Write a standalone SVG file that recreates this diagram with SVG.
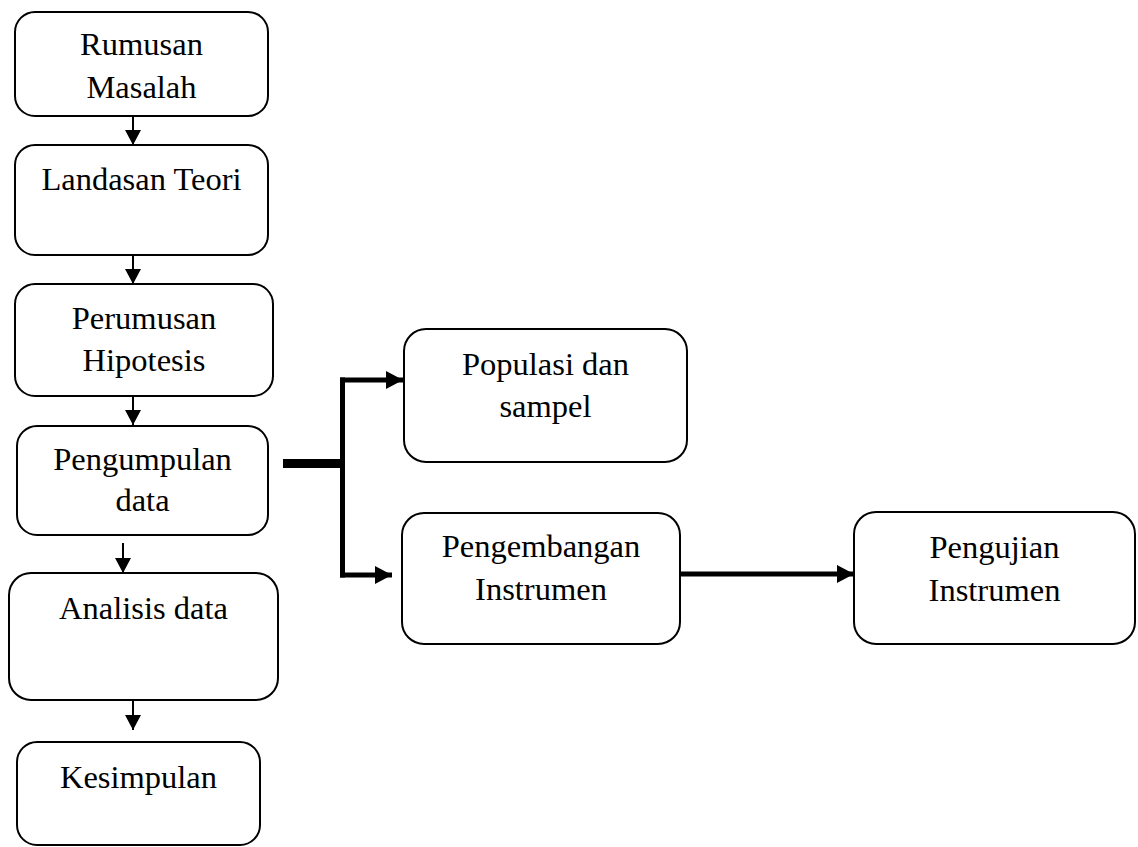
<svg xmlns="http://www.w3.org/2000/svg" width="1138" height="847" viewBox="0 0 1138 847">
<style>
.box{fill:#fff;stroke:#000;stroke-width:2}
.t{font-family:"Liberation Serif","Times New Roman",serif;font-size:32.5px;fill:#000;text-anchor:middle}
.thin{stroke:#000;stroke-width:2;fill:none}
.thick{stroke:#000;stroke-width:5;fill:none}
</style>
<defs>
<marker id="ah" markerUnits="userSpaceOnUse" markerWidth="17" markerHeight="17" refX="15" refY="8" orient="auto"><path d="M0,0 L15,8 L0,16 Z" fill="#000"/></marker>
<marker id="ahb" markerUnits="userSpaceOnUse" markerWidth="19" markerHeight="20" refX="17" refY="9" orient="auto"><path d="M0,0 L17,9 L0,18 Z" fill="#000"/></marker>
</defs>
<g id="connectors">
<line class="thin" x1="133" y1="116" x2="133" y2="145" marker-end="url(#ah)"/>
<line class="thin" x1="133" y1="255" x2="133" y2="284" marker-end="url(#ah)"/>
<line class="thin" x1="133" y1="396" x2="133" y2="425" marker-end="url(#ah)"/>
<line class="thin" x1="123" y1="543" x2="123" y2="573" marker-end="url(#ah)"/>
<line class="thin" x1="133" y1="700" x2="133" y2="730" marker-end="url(#ah)"/>
<line x1="283" y1="463.5" x2="345" y2="463.5" stroke="#000" stroke-width="9"/>
<line class="thick" x1="342.5" y1="377.5" x2="342.5" y2="577.5"/>
<line class="thick" x1="340" y1="380" x2="403" y2="380" marker-end="url(#ahb)"/>
<line class="thick" x1="340" y1="575" x2="392" y2="575" marker-end="url(#ahb)"/>
<line class="thick" x1="680" y1="574" x2="854" y2="574" marker-end="url(#ahb)"/>
</g>
<g id="n1"><rect class="box" x="15" y="12" width="253" height="104" rx="20"/><text class="t" x="141.5" y="55">Rumusan</text><text class="t" x="141.5" y="98">Masalah</text></g>
<g id="n2"><rect class="box" x="15" y="145" width="253" height="110" rx="20"/><text class="t" x="141.5" y="190">Landasan Teori</text></g>
<g id="n3"><rect class="box" x="15" y="284" width="258" height="112" rx="20"/><text class="t" x="144" y="329">Perumusan</text><text class="t" x="144" y="371">Hipotesis</text></g>
<g id="n4"><rect class="box" x="17" y="426" width="251" height="109" rx="20"/><text class="t" x="142.5" y="470">Pengumpulan</text><text class="t" x="142.5" y="511">data</text></g>
<g id="n5"><rect class="box" x="9" y="573" width="269" height="127" rx="22"/><text class="t" x="143.5" y="619">Analisis data</text></g>
<g id="n6"><rect class="box" x="17" y="742" width="243" height="103" rx="20"/><text class="t" x="138.5" y="788">Kesimpulan</text></g>
<g id="n7"><rect class="box" x="404" y="329" width="283" height="133" rx="22"/><text class="t" x="545.5" y="375">Populasi dan</text><text class="t" x="545.5" y="417">sampel</text></g>
<g id="n8"><rect class="box" x="402" y="513" width="278" height="131" rx="22"/><text class="t" x="541" y="557">Pengembangan</text><text class="t" x="541" y="600">Instrumen</text></g>
<g id="n9"><rect class="box" x="854" y="512" width="281" height="132" rx="22"/><text class="t" x="994.5" y="558">Pengujian</text><text class="t" x="994.5" y="601">Instrumen</text></g>
</svg>
